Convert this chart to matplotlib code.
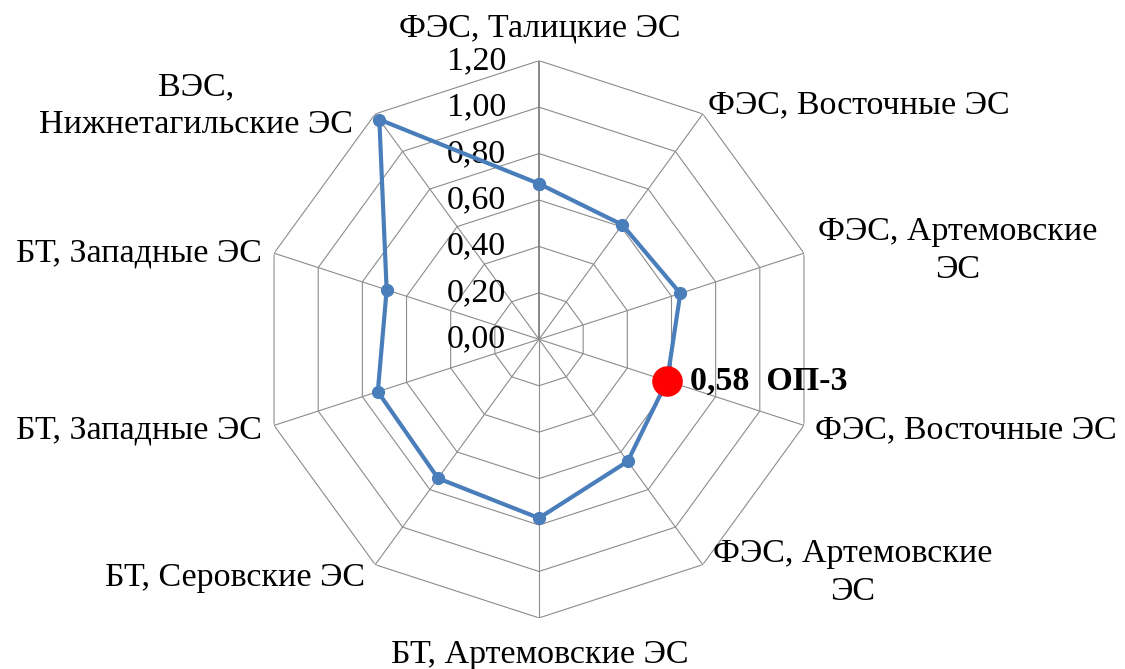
import numpy as np
import matplotlib
matplotlib.use("Agg")
import matplotlib.pyplot as plt

plt.rcParams['font.family'] = ['Liberation Serif', 'DejaVu Serif']

categories = [
    "ФЭС, Талицкие ЭС",
    "ФЭС, Восточные ЭС",
    "ФЭС, Артемовские\nЭС",
    "ФЭС, Восточные ЭС",
    "ФЭС, Артемовские\nЭС",
    "БТ, Артемовские ЭС",
    "БТ, Серовские ЭС",
    "БТ, Западные ЭС",
    "БТ, Западные ЭС",
    "ВЭС,\nНижнетагильские ЭС",
]
values = [0.67, 0.61, 0.64, 0.58, 0.65, 0.77, 0.74, 0.73, 0.69, 1.17]
tick_values = [0.0, 0.2, 0.4, 0.6, 0.8, 1.0, 1.2]
tick_labels = ["0,00", "0,20", "0,40", "0,60", "0,80", "1,00", "1,20"]
highlight_index = 3
highlight_name = "ОП-3"

W, H = 1125, 669
fig = plt.figure(figsize=(W / 100, H / 100), dpi=100)
cx, cy, R = 539, 339.3, 278.6
ax = fig.add_axes([(cx - R) / W, (H - cy - R) / H, 2 * R / W, 2 * R / H], projection='polar')
ax.set_theta_zero_location('N')
ax.set_theta_direction(-1)
ax.set_ylim(0, 1.2)
ax.grid(False)
ax.spines['polar'].set_visible(False)
ax.set_xticks([])
ax.set_yticks([])
ax.patch.set_alpha(0)

n = len(categories)
angles = np.arange(n) * 2 * np.pi / n
grid_col = '#8c8c8c'
fs = 24.5

# polygonal rings
for t in tick_values[1:]:
    a = np.append(angles, angles[0])
    ax.plot(a, [t] * (n + 1), color=grid_col, lw=0.8, zorder=1)
# spokes
for i, a in enumerate(angles):
    ax.plot([a, a], [0, 1.2], color='#7f7f7f' if i == 0 else grid_col,
            lw=1.3 if i == 0 else 0.8, zorder=1)

# value axis labels, left of the vertical spoke
for t, lab in zip(tick_values, tick_labels):
    ax.annotate(lab, xy=(0, t), xytext=(-33, 0), textcoords='offset pixels',
                ha='right', va='center', fontsize=fs, zorder=2)

# data series
a = np.append(angles, angles[0])
v = np.append(values, values[0])
ax.plot(a, v, color='#4A7EBB', lw=3, marker='o', markersize=8.5, zorder=3)

# highlighted point
ax.plot(angles[highlight_index], values[highlight_index], 'o', color='#FF0000',
        markersize=21, zorder=4)
ax.annotate(f"{values[highlight_index]:.2f}".replace('.', ',') + "  " + highlight_name,
            xy=(angles[highlight_index], values[highlight_index]),
            xytext=(23, 0), textcoords='offset pixels',
            ha='left', va='center', fontsize=fs, fontweight='bold', zorder=5)

# category labels
label_pos = [
    (540, 28, 'center'),
    (708, 105, 'left'),
    (958, 251, 'center'),
    (815, 430, 'left'),
    (853, 573, 'center'),
    (540, 655, 'center'),
    (365, 578, 'right'),
    (262, 430, 'right'),
    (262, 253, 'right'),
    (196, 106, 'center'),
]
for name, (x, y, ha) in zip(categories, label_pos):
    fig.text(x / W, 1 - y / H, name, ha=ha, va='center', fontsize=fs,
             multialignment='center', linespacing=1.3)

fig.savefig('out.png', dpi=100)
